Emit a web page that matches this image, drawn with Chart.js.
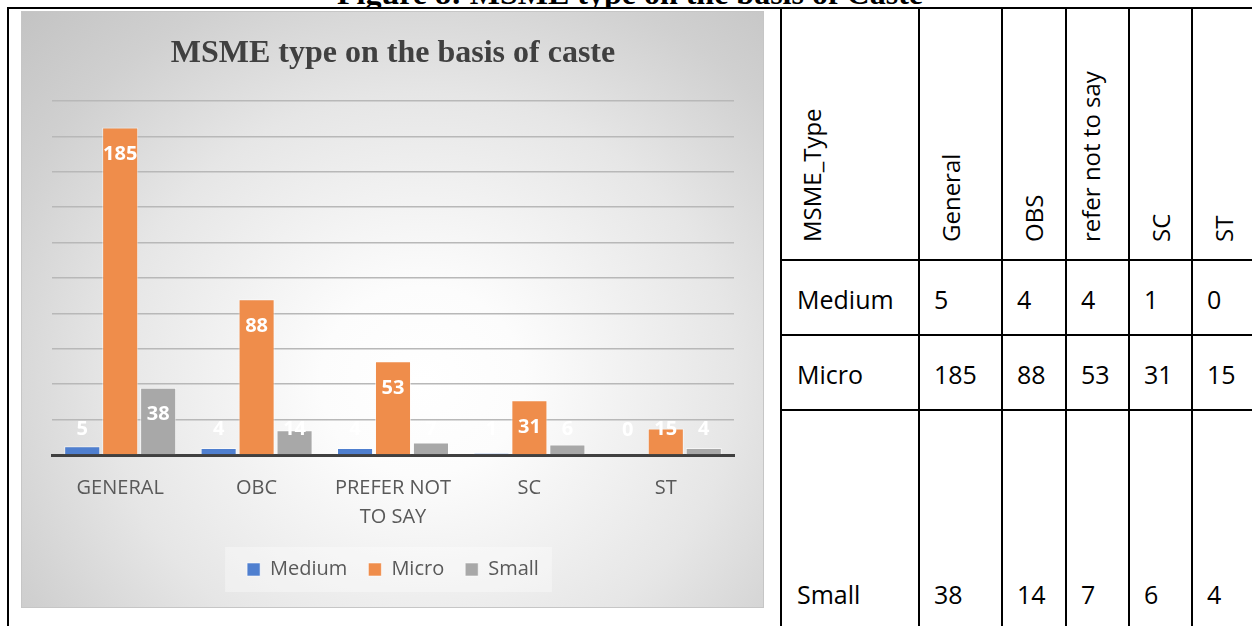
<!DOCTYPE html>
<html>
<head>
<meta charset="utf-8">
<script src="https://cdn.jsdelivr.net/npm/chart.js@4.4.1/dist/chart.umd.min.js"></script>
<style>
  html, body { margin: 0; padding: 0; background: #fff; }
  body { width: 1252px; height: 626px; position: relative; overflow: hidden; font-family: "Open Sans", sans-serif; }
  #caption { position: absolute; left: 8px; top: 0; width: 1244px; height: 9px; overflow: hidden; }
  #caption span { position: absolute; left: 0; right: 0; top: -23px; text-align: center; font: bold 32px/1 "Liberation Serif", serif; white-space: nowrap; color: #000; }
  #chartBox {
    position: absolute; left: 21px; top: 11px; width: 743px; height: 597px;
    background: radial-gradient(ellipse farthest-corner at 54% 62%, #ffffff 0%, #fcfcfc 18%, #e6e6e6 55%, #d0d0d0 80%, #c3c3c3 100%);
    box-shadow: inset 0 0 0 1px #c6c6c6;
  }
  #chartCanvas { position: absolute; left: 0; top: 0; }
  .line { position: absolute; background: #000; }
  .cell { position: absolute; font-size: 25px; line-height: 1; color: #000; white-space: nowrap; }
  .head { position: absolute; font-size: 24px; line-height: 1; color: #000; white-space: nowrap; transform-origin: 0 0; transform: rotate(-90deg); }
</style>
</head>
<body>
<div id="caption"><span>Figure 8: MSME type on the basis of Caste</span></div>
<div id="chartBox"><canvas id="chartCanvas" width="743" height="597"></canvas></div>
<div id="table"></div>
<script>
// Chart data
const categories = ['GENERAL', 'OBC', ['PREFER NOT', 'TO SAY'], 'SC', 'ST'];
const mediumValues = [5, 4, 4, 1, 0];
const microValues = [185, 88, 53, 31, 15];
const smallValues = [38, 14, 7, 6, 4];
const yMax = 200;
const yStep = 20;

// Table texts
const tableHeaders = ['MSME_Type', 'General', 'OBS', 'refer not to say', 'SC', 'ST'];
const rowNames = ['Medium', 'Micro', 'Small'];
const rowValues = [mediumValues, microValues, smallValues];

// Table layout (page pixels)
const colLines = [781, 919, 1002, 1066, 1129, 1192];
const rowLines = [260, 335, 410];
const headerInset = [19, 20, 20, 13, 20, 20];
const rowTextTop = [287, 362, 582];

// white data labels, pushed up to stay above the axis for short bars
const barLabels = {
    id: 'barLabels',
    afterDatasetsDraw(chart) {
        const ctx = chart.ctx;
        ctx.save();
        ctx.fillStyle = '#ffffff';
        ctx.font = 'bold 20px "Open Sans"';
        ctx.textAlign = 'center';
        ctx.textBaseline = 'middle';
        chart.data.datasets.forEach((ds, i) => {
            chart.getDatasetMeta(i).data.forEach((bar, j) => {
                const y = Math.min(bar.y + 27, bar.base - 25);
                ctx.fillText(String(ds.data[j]), bar.x, y);
            });
        });
        ctx.restore();
    }
};

// light panel behind the legend
const legendBack = {
    id: 'legendBack',
    beforeDraw(chart) {
        const boxes = chart.legend && chart.legend.legendHitBoxes;
        if (!boxes || !boxes.length) return;
        const first = boxes[0];
        const last = boxes[boxes.length - 1];
        const mid = first.top + first.height / 2;
        const ctx = chart.ctx;
        ctx.save();
        ctx.fillStyle = 'rgba(255,255,255,0.35)';
        ctx.fillRect(first.left - 22, mid - 22.5, last.left + last.width + 13 - (first.left - 22), 45);
        ctx.restore();
    }
};

const ctx = document.getElementById('chartCanvas');
new Chart(ctx, {
    type: 'bar',
    data: {
        labels: categories,
        datasets: [
            { label: 'Medium', data: mediumValues, backgroundColor: '#4f7fcf' },
            { label: 'Micro', data: microValues, backgroundColor: '#ef8d4b' },
            { label: 'Small', data: smallValues, backgroundColor: '#a8a8a8' }
        ]
    },
    options: {
        responsive: false,
        animation: false,
        devicePixelRatio: 1,
        datasets: {
            bar: {
                categoryPercentage: 0.835,
                barPercentage: 0.95,
                borderColor: 'rgba(255,255,255,0.55)',
                borderWidth: 1
            }
        },
        layout: { padding: { top: 0, left: 31, right: 30, bottom: 18.5 } },
        scales: {
            x: {
                grid: { display: false, drawTicks: false },
                border: { display: true, color: '#404040', width: 3 },
                ticks: {
                    color: '#595959',
                    font: { family: 'Open Sans', size: 20, lineHeight: 1.45 },
                    padding: 19,
                    maxRotation: 0,
                    autoSkip: false
                },
                afterFit(scale) { scale.height = 83.5; }
            },
            y: {
                min: 0,
                max: yMax,
                ticks: { display: false, stepSize: yStep },
                grid: { color: '#b8b8b8', lineWidth: 1.5, drawTicks: false },
                border: { display: false }
            }
        },
        plugins: {
            title: {
                display: true,
                text: 'MSME type on the basis of caste',
                color: '#404040',
                font: { family: 'Liberation Serif', size: 32, weight: 'bold', lineHeight: 1.2 },
                padding: { top: 24, bottom: 27.6 }
            },
            legend: {
                position: 'bottom',
                labels: {
                    color: '#595959',
                    font: { family: 'Open Sans', size: 20 },
                    boxWidth: 13,
                    boxHeight: 13,
                    padding: 21
                }
            },
            tooltip: { enabled: false }
        }
    },
    plugins: [legendBack, barLabels]
});

// table on the right, built from the same arrays
const table = document.getElementById('table');
function addLine(x, y, w, h) {
    const d = document.createElement('div');
    d.className = 'line';
    d.style.left = x + 'px';
    d.style.top = y + 'px';
    d.style.width = w + 'px';
    d.style.height = h + 'px';
    table.appendChild(d);
}
addLine(7, 7, 1245, 2);
addLine(7, 7, 2, 619);
colLines.forEach(x => addLine(x - 1, 7, 2, 619));
rowLines.forEach(y => addLine(780, y - 1, 472, 2));

tableHeaders.forEach((text, i) => {
    const d = document.createElement('div');
    d.className = 'head';
    d.textContent = text;
    d.style.left = (colLines[i] + headerInset[i]) + 'px';
    d.style.top = '242px';
    table.appendChild(d);
});

rowNames.forEach((name, r) => {
    const label = document.createElement('div');
    label.className = 'cell';
    label.textContent = name;
    label.style.left = (colLines[0] + 16) + 'px';
    label.style.top = rowTextTop[r] + 'px';
    table.appendChild(label);
    rowValues[r].forEach((v, c) => {
        const d = document.createElement('div');
        d.className = 'cell';
        d.textContent = String(v);
        d.style.left = (colLines[c + 1] + 15) + 'px';
        d.style.top = rowTextTop[r] + 'px';
        table.appendChild(d);
    });
});
</script>
</body>
</html>
